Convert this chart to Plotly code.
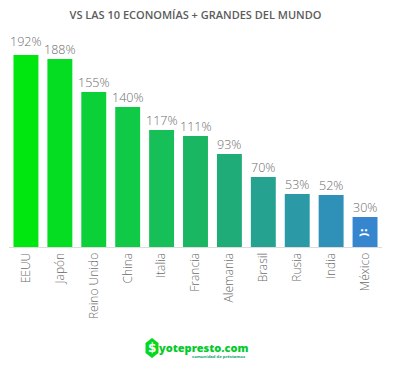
import plotly.graph_objects as go

countries = ["EEUU", "Japón", "Reino Unido", "China", "Italia", "Francia", "Alemania", "Brasil", "Rusia", "India", "México"]
values = [192, 188, 155, 140, 117, 111, 93, 70, 53, 52, 30]
colors = ["#00e60f", "#05dd22", "#0bd037", "#10c946", "#16bf57", "#1ab662", "#1fac78", "#26a290", "#2b99a6", "#2f90b8", "#3585cf"]
labels = [f"{v}%" for v in values]
label_shift = [14, 10, 10, 10, 10, 10, 10, 10, 10, 10, 10]
FONT = "Open Sans"
GREY = "#6c6c6c"

fig = go.Figure(go.Bar(
    x=countries, y=values, marker=dict(color=colors, line=dict(width=0)),
    width=0.735, hoverinfo="skip",
))
fig.update_layout(
    width=385, height=367, autosize=False,
    margin=dict(l=1, r=11, t=22, b=128),
    paper_bgcolor="white", plot_bgcolor="white",
    showlegend=False, font=dict(family=FONT),
    title=dict(text="VS LAS 10 ECONOMÍAS + GRANDES DEL MUNDO",
               xref="paper", x=0.5, xanchor="center", y=0.981, yanchor="middle",
               font=dict(family=FONT, size=11, color="#5c5c5c", weight=600)),
    xaxis=dict(tickangle=-90, tickfont=dict(family=FONT, size=12, color=GREY, weight=300),
               showline=True, linecolor="#dcdcdc", linewidth=1, ticks="", showgrid=False,
               range=[-0.5, 10.5]),
    yaxis=dict(visible=False, range=[0, 217], showgrid=False, zeroline=False),
)
for c, v, t, s in zip(countries, values, labels, label_shift):
    fig.add_annotation(x=c, y=v, text=t, showarrow=False, yanchor="middle", xanchor="center", yshift=s,
                       font=dict(family=FONT, size=12.5, color=GREY, weight=300))
# sad face on the México bar
fig.add_annotation(x="México", y=15, text=":(", textangle=90, showarrow=False,
                   yanchor="middle", xanchor="center",
                   font=dict(family="DejaVu Sans", size=11, color="white", weight=700))

# logo, placed in page pixels converted to plot fractions
def px(x):
    return (x - 9) / 373
def py(y):
    return (247 - y) / 217

hexagon = [(152, 338), (158.5, 343), (158.5, 353), (152, 358), (145.5, 353), (145.5, 343)]
path = "M " + " L ".join(f"{px(a):.4f},{py(b):.4f}" for a, b in hexagon) + " Z"
fig.add_shape(type="path", xref="paper", yref="paper", path=path,
              fillcolor="#06d81f", line=dict(width=0), layer="above")
logo = dict(xref="paper", yref="paper", showarrow=False, xanchor="center", yanchor="middle")
fig.add_annotation(x=px(152), y=py(348), text="$",
                   font=dict(family="DejaVu Sans", size=12, color="white", weight=700), **logo)
fig.add_annotation(x=px(203), y=py(347), text="yotepresto.com",
                   font=dict(family="Open Sans", size=11, color="#06c92e", weight=800), **logo)
fig.add_annotation(x=px(218), y=py(356), text="comunidad de préstamos",
                   font=dict(family="Open Sans", size=4.2, color="#0aa86a", weight=700), **logo)
fig.write_html("out.html")
